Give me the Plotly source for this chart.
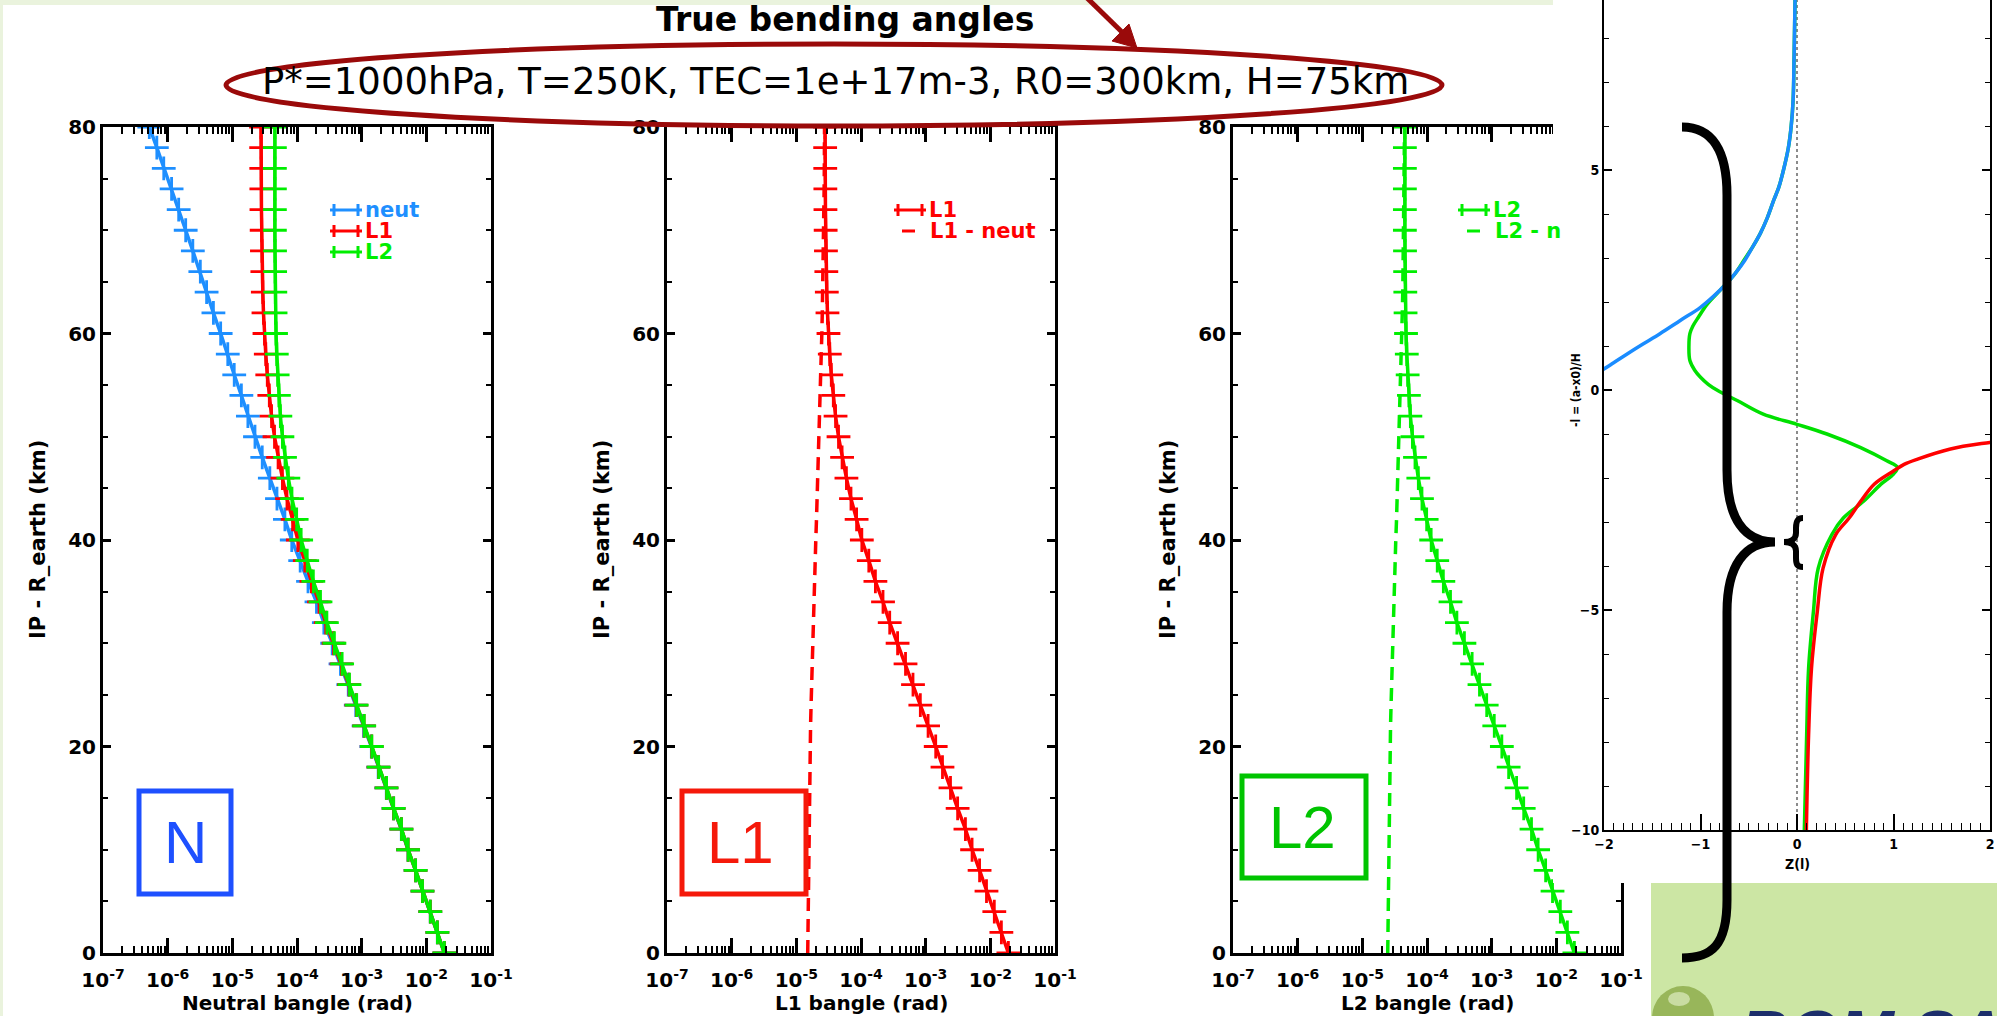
import plotly.graph_objects as go

W, H = 1997, 1016

# ---------------- data ----------------
heights_km = [0, 2, 4, 6, 8, 10, 12, 14, 16, 18, 20, 22, 24, 26, 28, 30, 32, 34, 36, 38, 40,
              42, 44, 46, 48, 50, 52, 54, 56, 58, 60, 62, 64, 66, 68, 70, 72, 74, 76, 78, 80]

neut_bangle = [1.90e-2, 1.48e-2, 1.15e-2, 8.7e-3, 6.8e-3, 5.2e-3, 4.1e-3, 3.1e-3, 2.4e-3, 1.8e-3,
               1.41e-3, 1.07e-3, 8.1e-4, 6.2e-4, 4.7e-4, 3.5e-4, 2.6e-4, 2.0e-4, 1.48e-4, 1.12e-4,
               8.3e-5, 6.5e-5, 4.9e-5, 3.8e-5, 2.9e-5, 2.24e-5, 1.74e-5, 1.38e-5, 1.07e-5, 8.5e-6,
               6.6e-6, 5.1e-6, 4.0e-6, 3.2e-6, 2.45e-6, 1.9e-6, 1.48e-6, 1.15e-6, 8.7e-7, 6.8e-7, 5.2e-7]

l1_bangle = [1.902e-2, 1.482e-2, 1.152e-2, 8.72e-3, 6.82e-3, 5.22e-3, 4.12e-3, 3.12e-3, 2.42e-3, 1.82e-3,
             1.43e-3, 1.09e-3, 8.27e-4, 6.37e-4, 4.88e-4, 3.68e-4, 2.78e-4, 2.19e-4, 1.67e-4, 1.32e-4,
             1.03e-4, 8.55e-5, 7.0e-5, 5.95e-5, 5.1e-5, 4.49e-5, 4.04e-5, 3.73e-5, 3.47e-5, 3.29e-5,
             3.14e-5, 3.03e-5, 2.96e-5, 2.91e-5, 2.87e-5, 2.84e-5, 2.82e-5, 2.81e-5, 2.80e-5, 2.79e-5, 2.78e-5]

l2_bangle = [1.902e-2, 1.482e-2, 1.153e-2, 8.73e-3, 6.83e-3, 5.23e-3, 4.13e-3, 3.13e-3, 2.43e-3, 1.83e-3,
             1.437e-3, 1.097e-3, 8.38e-4, 6.48e-4, 4.99e-4, 3.79e-4, 2.90e-4, 2.31e-4, 1.79e-4, 1.44e-4,
             1.16e-4, 9.88e-5, 8.36e-5, 7.34e-5, 6.52e-5, 5.95e-5, 5.53e-5, 5.25e-5, 5.02e-5, 4.87e-5,
             4.74e-5, 4.66e-5, 4.62e-5, 4.59e-5, 4.57e-5, 4.55e-5, 4.55e-5, 4.55e-5, 4.55e-5, 4.55e-5, 4.55e-5]

l1_minus_neut = [1.50e-5, 1.51e-5, 1.52e-5, 1.53e-5, 1.54e-5, 1.55e-5, 1.57e-5, 1.58e-5, 1.60e-5, 1.62e-5,
                 1.64e-5, 1.66e-5, 1.69e-5, 1.72e-5, 1.75e-5, 1.78e-5, 1.82e-5, 1.86e-5, 1.90e-5, 1.95e-5,
                 2.00e-5, 2.05e-5, 2.10e-5, 2.15e-5, 2.20e-5, 2.25e-5, 2.30e-5, 2.35e-5, 2.40e-5, 2.44e-5,
                 2.48e-5, 2.52e-5, 2.56e-5, 2.59e-5, 2.62e-5, 2.65e-5, 2.67e-5, 2.69e-5, 2.71e-5, 2.72e-5, 2.73e-5]

l2_minus_neut = [2.47e-5, 2.49e-5, 2.50e-5, 2.52e-5, 2.54e-5, 2.55e-5, 2.59e-5, 2.60e-5, 2.64e-5, 2.67e-5,
                 2.70e-5, 2.73e-5, 2.78e-5, 2.83e-5, 2.88e-5, 2.93e-5, 3.00e-5, 3.06e-5, 3.13e-5, 3.21e-5,
                 3.29e-5, 3.38e-5, 3.46e-5, 3.54e-5, 3.62e-5, 3.71e-5, 3.79e-5, 3.87e-5, 3.95e-5, 4.02e-5,
                 4.08e-5, 4.15e-5, 4.22e-5, 4.27e-5, 4.32e-5, 4.36e-5, 4.40e-5, 4.43e-5, 4.46e-5, 4.48e-5, 4.50e-5]

# Z(l) inset curves
zl_neut_z = [-0.01, -0.02, -0.03, -0.04, -0.06, -0.09, -0.14, -0.19, -0.24, -0.31, -0.38, -0.46,
             -0.54, -0.63, -0.73, -0.86, -1.0, -1.21, -1.42, -1.6, -1.76, -1.9, -2.0, -2.1]
zl_neut_l = [10.0, 8.9, 7.6, 6.6, 6.0, 5.5, 5.0, 4.6, 4.32, 3.9, 3.56, 3.25,
             2.95, 2.68, 2.42, 2.14, 1.88, 1.58, 1.28, 1.04, 0.82, 0.62, 0.48, 0.36]

zl_l2_z = [-0.01, -0.02, -0.03, -0.04, -0.06, -0.09, -0.14, -0.19, -0.24, -0.31, -0.38, -0.46,
           -0.55, -0.65, -0.80, -0.93, -1.02, -1.08, -1.11, -1.12, -1.11, -1.06, -1.0, -0.92,
           -0.83, -0.62, -0.35, 0.0, 0.31, 0.66, 0.93, 1.04, 1.0, 0.87, 0.69, 0.48, 0.36, 0.22,
           0.17, 0.12, 0.10, 0.076]
zl_l2_l = [10.0, 8.9, 7.6, 6.6, 6.0, 5.5, 5.0, 4.6, 4.32, 3.9, 3.56, 3.25,
           2.95, 2.62, 2.26, 1.95, 1.66, 1.45, 1.28, 1.0, 0.67, 0.45, 0.29, 0.13,
           0.0, -0.24, -0.55, -0.78, -1.0, -1.31, -1.61, -1.76, -1.91, -2.14, -2.53, -2.91, -3.29, -4.05,
           -5.04, -6.33, -7.85, -10.0]

zl_l1_z = [2.6, 2.0, 1.59, 1.25, 1.11, 1.0, 0.80, 0.66, 0.54, 0.40, 0.27, 0.21, 0.15, 0.12, 0.097]
zl_l1_l = [-1.02, -1.19, -1.34, -1.57, -1.69, -1.84, -2.14, -2.53, -2.91, -3.29, -4.05, -5.04, -6.33, -7.85, -10.0]

log_tick_vals = [1e-7, 1e-6, 1e-5, 1e-4, 1e-3, 1e-2, 1e-1]
log_tick_text = ["10<sup>-7</sup>", "10<sup>-6</sup>", "10<sup>-5</sup>", "10<sup>-4</sup>",
                 "10<sup>-3</sup>", "10<sup>-2</sup>", "10<sup>-1</sup>"]
height_ticks = [0, 20, 40, 60, 80]
zl_x_ticks = [-2, -1, 0, 1, 2]
zl_y_ticks = [-10, -5, 0, 5]

title_text = "True bending angles"
subtitle_text = "P*=1000hPa, T=250K, TEC=1e+17m-3, R0=300km, H=75km"

# ---------------- helpers ----------------
def fx(x):
    return x / W

def fy(y):
    return 1 - y / H

BLUE = "#1e8fff"
RED = "#ff0000"
GREEN = "#00ee00"
DARKRED = "#9a0a0a"
PF = "DejaVu Sans"
NF = "DejaVu Sans Condensed, Liberation Sans Narrow, Liberation Sans, sans-serif"

minor_log_vals = [m * 10.0 ** e for e in range(-7, -1) for m in range(2, 10)]

PANEL_Y = (127, 953)
panels = [(103, 491), (667, 1055), (1233, 1621)]

fig = go.Figure()

layout_axes = {}
for i, (x0, x1) in enumerate(panels):
    n = "" if i == 0 else str(i + 1)
    layout_axes["xaxis" + n] = dict(
        domain=[fx(x0), fx(x1)], anchor="y" + n, type="log", range=[-7, -1], automargin=False,
        tickmode="array", tickvals=log_tick_vals, ticktext=log_tick_text,
        ticks="inside", ticklen=15, tickwidth=2.5, tickcolor="black",
        showline=True, linewidth=3, linecolor="black", mirror="ticks",
        showgrid=False, zeroline=False,
        minor=dict(tickmode="array", tickvals=minor_log_vals, ticks="inside",
                   ticklen=7, tickwidth=2, tickcolor="black", showgrid=False),
        tickfont=dict(family=PF, size=20, color="black", weight="bold"),
        ticklabelstandoff=7,
    )
    layout_axes["yaxis" + n] = dict(
        domain=[fy(PANEL_Y[1]), fy(PANEL_Y[0])], anchor="x" + n, range=[0, 80], automargin=False,
        tickmode="array", tickvals=height_ticks,
        ticks="inside", ticklen=8, tickwidth=2.5, tickcolor="black",
        showline=True, linewidth=3, linecolor="black", mirror="ticks",
        showgrid=False, zeroline=False,
        minor=dict(dtick=5, tick0=0, ticks="inside", ticklen=5, tickwidth=2,
                   tickcolor="black", showgrid=False),
        tickfont=dict(family=PF, size=20, color="black", weight="bold"),
    )

# dummy subplot: white background of the pasted inset picture (covers panel 3 edge)
layout_axes["xaxis4"] = dict(domain=[fx(1553), 1.0], anchor="y4", visible=False, range=[0, 1], automargin=False)
layout_axes["yaxis4"] = dict(domain=[fy(883), 1.0], anchor="x4", visible=False, range=[0, 1], automargin=False)

# Z(l) inset subplot
ZX = (1604, 1990)
ZY = (830, 0)
z_top = 5 + 170 / 44.0
layout_axes["xaxis5"] = dict(
    domain=[fx(ZX[0]), fx(ZX[1])], anchor="y5", range=[-2, 2], automargin=False,
    tickmode="array", tickvals=zl_x_ticks, ticks="inside", ticklen=16, tickwidth=1.5,
    tickcolor="black", showline=True, linewidth=2, linecolor="black", mirror=False,
    showgrid=False, zeroline=False,
    minor=dict(dtick=0.1, tick0=0, ticks="inside", ticklen=7, tickwidth=1.2, tickcolor="black", showgrid=False),
    tickfont=dict(family=NF, size=14, color="black", weight="bold"),
)
layout_axes["yaxis5"] = dict(
    domain=[fy(ZY[0]), 1.0], anchor="x5", range=[-10, z_top], automargin=False,
    tickmode="array", tickvals=zl_y_ticks, ticks="inside", ticklen=8, tickwidth=1.5,
    tickcolor="black", showline=True, linewidth=2, linecolor="black", mirror="ticks",
    showgrid=False, zeroline=False,
    minor=dict(dtick=1, tick0=0, ticks="inside", ticklen=5, tickwidth=1.2, tickcolor="black", showgrid=False),
    tickfont=dict(family=NF, size=14, color="black", weight="bold"),
)

def marker_line(x, y, color, xa, ya, name):
    return go.Scatter(
        x=x, y=y, xaxis=xa, yaxis=ya, mode="lines+markers", name=name,
        line=dict(color=color, width=3.5),
        marker=dict(symbol="cross-thin", size=17, color=color, line=dict(color=color, width=2.8)),
        showlegend=False, hoverinfo="skip",
    )

def dashed_line(x, y, color, xa, ya, name):
    return go.Scatter(
        x=x, y=y, xaxis=xa, yaxis=ya, mode="lines", name=name,
        line=dict(color=color, width=3.5, dash="13px,8px"),
        showlegend=False, hoverinfo="skip",
    )

# panel 1
fig.add_trace(marker_line(neut_bangle, heights_km, BLUE, "x", "y", "neut"))
fig.add_trace(marker_line(l1_bangle, heights_km, RED, "x", "y", "L1"))
fig.add_trace(marker_line(l2_bangle, heights_km, GREEN, "x", "y", "L2"))
# panel 2
fig.add_trace(dashed_line(l1_minus_neut, heights_km, RED, "x2", "y2", "L1 - neut"))
fig.add_trace(marker_line(l1_bangle, heights_km, RED, "x2", "y2", "L1"))
# panel 3
fig.add_trace(dashed_line(l2_minus_neut, heights_km, GREEN, "x3", "y3", "L2 - neut"))
fig.add_trace(marker_line(l2_bangle, heights_km, GREEN, "x3", "y3", "L2"))
# dummy
fig.add_trace(go.Scatter(x=[None], y=[None], xaxis="x4", yaxis="y4", showlegend=False, hoverinfo="skip"))
# inset
fig.add_trace(go.Scatter(x=[0, 0], y=[-10, 10], xaxis="x5", yaxis="y5", mode="lines",
                         line=dict(color="#666666", width=1.5, dash="dot"), showlegend=False, hoverinfo="skip"))
fig.add_trace(go.Scatter(x=zl_l2_z, y=zl_l2_l, xaxis="x5", yaxis="y5", mode="lines", line_shape="spline",
                         line=dict(color="#00e000", width=3.5), showlegend=False, hoverinfo="skip"))
fig.add_trace(go.Scatter(x=zl_neut_z, y=zl_neut_l, xaxis="x5", yaxis="y5", mode="lines", line_shape="spline",
                         line=dict(color="#1a8cff", width=3.5), showlegend=False, hoverinfo="skip"))
fig.add_trace(go.Scatter(x=zl_l1_z, y=zl_l1_l, xaxis="x5", yaxis="y5", mode="lines", line_shape="spline",
                         line=dict(color=RED, width=3.5), showlegend=False, hoverinfo="skip"))

# ---------------- shapes ----------------
shapes = []

def rect(x0, y0, x1, y1, fill=None, line_color=None, width=0, layer="above"):
    d = dict(type="rect", xref="paper", yref="paper", x0=fx(x0), x1=fx(x1), y0=fy(y1), y1=fy(y0),
             layer=layer, line=dict(width=width, color=line_color or "rgba(0,0,0,0)"))
    if fill:
        d["fillcolor"] = fill
    return d

def seg(x0, y0, x1, y1, color, width):
    return dict(type="line", xref="paper", yref="paper", x0=fx(x0), y0=fy(y0), x1=fx(x1), y1=fy(y1),
                line=dict(color=color, width=width), layer="above")

def path_px(cmds, color, width, fill=None):
    parts = []
    for c in cmds:
        op, pts = c[0], c[1:]
        coords = []
        for k in range(0, len(pts), 2):
            coords.append("%.6f,%.6f" % (fx(pts[k]), fy(pts[k + 1])))
        parts.append(op + " " + " ".join(coords))
    d = dict(type="path", xref="paper", yref="paper", path=" ".join(parts) + (" Z" if fill else ""),
             line=dict(color=color, width=width), layer="above")
    if fill:
        d["fillcolor"] = fill
    return d

# white picture area on pale green slide
shapes.append(rect(3, 5, W + 5, H + 5, fill="white", layer="below"))

# legend glyphs
def plus_glyph(xa, xb, y, color):
    return [seg(xa - 4, y, xb + 4, y, color, 3),
            seg(xa, y - 6, xa, y + 6, color, 3),
            seg(xb, y - 6, xb, y + 6, color, 3)]

for c, yy in ((BLUE, 210), (RED, 231), (GREEN, 252)):
    shapes += plus_glyph(334, 358, yy, c)
shapes += plus_glyph(898, 922, 210, RED)
shapes.append(seg(902, 231, 915, 231, RED, 3))
shapes += plus_glyph(1462, 1486, 210, GREEN)
shapes.append(seg(1467, 231, 1480, 231, GREEN, 3))

# label boxes
shapes.append(rect(139, 791, 231, 894, line_color="#1e50ff", width=5))
shapes.append(rect(682, 791, 806, 894, line_color="#f5190a", width=5))
shapes.append(rect(1242, 776, 1366, 878, line_color="#00c400", width=5))

# ellipse + arrow
shapes.append(dict(type="circle", xref="paper", yref="paper", x0=fx(226), x1=fx(1442), y0=fy(126), y1=fy(44),
                   line=dict(color=DARKRED, width=5), layer="above"))
shapes.append(seg(1085, -4, 1124, 34, DARKRED, 5))
shapes.append(path_px([("M", 1137, 48), ("L", 1112, 41), ("L", 1129, 24)], DARKRED, 1, fill=DARKRED))

# ROM SAF box + logo ball
shapes.append(rect(1651, 883, W + 5, H + 5, fill="#cce6a4", layer="above"))
shapes.append(dict(type="circle", xref="paper", yref="paper", x0=fx(1652), x1=fx(1714), y0=fy(1050), y1=fy(986),
                   fillcolor="#98b65a", line=dict(width=0), layer="above"))
shapes.append(dict(type="circle", xref="paper", yref="paper", x0=fx(1668), x1=fx(1690), y0=fy(1006), y1=fy(992),
                   fillcolor="#c9dca2", line=dict(width=0), layer="above"))

# braces
shapes.append(path_px([("M", 1682, 127), ("C", 1712, 127, 1727, 150, 1727, 195), ("L", 1727, 470),
                       ("C", 1727, 520, 1745, 542, 1775, 542),
                       ("C", 1745, 542, 1727, 565, 1727, 612), ("L", 1727, 900),
                       ("C", 1727, 945, 1712, 958, 1682, 958)], "black", 9))
shapes.append(path_px([("M", 1803, 518), ("C", 1797, 518, 1796, 522, 1796, 528), ("L", 1796, 533),
                       ("C", 1796, 539, 1791, 542, 1784, 542),
                       ("C", 1791, 542, 1796, 545, 1796, 551), ("L", 1796, 558),
                       ("C", 1796, 564, 1797, 567, 1803, 567)], "black", 6))

# ---------------- annotations ----------------
anns = []

def ann(text, x, y, size, color="black", family=PF, weight="normal", xanchor="center",
        yanchor="middle", angle=0, style="normal"):
    anns.append(dict(text=text, x=fx(x), y=fy(y), xref="paper", yref="paper", showarrow=False,
                     xanchor=xanchor, yanchor=yanchor, textangle=angle,
                     font=dict(family=family, size=size, color=color, weight=weight, style=style)))

ann(title_text, 845, 20, 33, weight="bold")
ann(subtitle_text, 835, 82, 37)

xt = ["Neutral bangle (rad)", "L1 bangle (rad)", "L2 bangle (rad)"]
for (x0, x1), t in zip(panels, xt):
    ann(t, (x0 + x1) / 2, 1003, 20, weight="bold")
    ann("IP - R_earth (km)", x0 - 65, 540, 21, weight="bold", angle=-90)

# legend texts
ann("neut", 363, 210, 21, BLUE, weight="bold", xanchor="left")
ann("L1", 363, 231, 21, RED, weight="bold", xanchor="left")
ann("L2", 363, 252, 21, GREEN, weight="bold", xanchor="left")
ann("L1", 927, 210, 21, RED, weight="bold", xanchor="left")
ann("L1 - neut", 928, 231, 21, RED, weight="bold", xanchor="left")
ann("L2", 1491, 210, 21, GREEN, weight="bold", xanchor="left")
ann("L2 - n", 1493, 231, 21, GREEN, weight="bold", xanchor="left")

# box labels
ann("N", 185, 842, 60, "#1e50ff", family="Liberation Sans")
ann("L1", 740, 842, 60, "#f5190a", family="Liberation Sans")
ann("L2", 1302, 827, 60, "#00c400", family="Liberation Sans")

# inset titles
ann("Z(l)", 1797, 864, 14, family=NF, weight="bold")
ann("-l = (a-x0)/H", 1576, 390, 12, family=NF, weight="bold", angle=-90)

# ROM SAF logo text (cut by the page edge)
ann("ROM SAF", 1738, 1034, 66, "#1c2e6b", family="Liberation Sans", weight="bold", xanchor="left", style="italic")

fig.update_layout(
    template="none",
    width=W, height=H, margin=dict(l=0, r=0, t=0, b=0, pad=0),
    paper_bgcolor="#eaf3dd", plot_bgcolor="white",
    showlegend=False, shapes=shapes, annotations=anns,
    **layout_axes,
)

fig.write_html("out.html", include_plotlyjs=True, config={"displayModeBar": False})
